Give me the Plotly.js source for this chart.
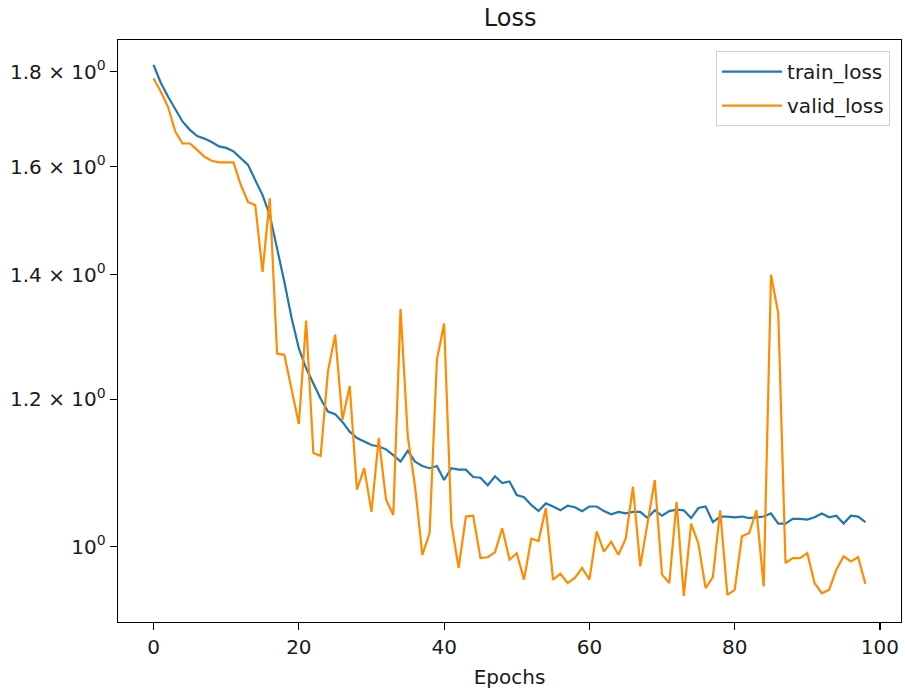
<!DOCTYPE html>
<html>
<head>
<meta charset="utf-8">
<script src="https://cdn.plot.ly/plotly-3.0.1.min.js"></script>
<style>html,body{margin:0;padding:0;background:#fff;}#chart{width:905px;height:692px;}</style>
</head>
<body>
<div id="chart"></div>
<script>
const epochs = Array.from({length: 99}, (_, i) => i);

const trainLoss = [
  1.815, 1.775, 1.745, 1.717, 1.692, 1.675, 1.662, 1.657, 1.650, 1.641,
  1.638, 1.631, 1.617, 1.604, 1.574, 1.545, 1.507, 1.447, 1.388, 1.327,
  1.278, 1.247, 1.224, 1.201, 1.182, 1.178, 1.167, 1.153, 1.144, 1.139,
  1.134, 1.132, 1.128, 1.120, 1.111, 1.126, 1.111, 1.105, 1.102, 1.105,
  1.086, 1.102, 1.100, 1.100, 1.090, 1.089, 1.079, 1.091, 1.082, 1.084,
  1.066, 1.063, 1.053, 1.045, 1.055, 1.051, 1.046, 1.052, 1.050, 1.045,
  1.051, 1.051, 1.045, 1.041, 1.044, 1.042, 1.044, 1.044, 1.036, 1.046,
  1.039, 1.045, 1.047, 1.046, 1.036, 1.049, 1.051, 1.031, 1.038, 1.038,
  1.037, 1.038, 1.036, 1.037, 1.038, 1.042, 1.029, 1.029, 1.035, 1.035,
  1.034, 1.037, 1.042, 1.037, 1.039, 1.029, 1.039, 1.038, 1.031
];

const validLoss = [
  1.785, 1.756, 1.723, 1.671, 1.647, 1.647, 1.634, 1.620, 1.612, 1.609,
  1.609, 1.609, 1.565, 1.532, 1.526, 1.405, 1.539, 1.270, 1.268, 1.215,
  1.164, 1.323, 1.123, 1.119, 1.242, 1.300, 1.170, 1.220, 1.073, 1.102,
  1.044, 1.144, 1.060, 1.040, 1.342, 1.146, 1.077, 0.990, 1.017, 1.260,
  1.318, 1.029, 0.974, 1.038, 1.039, 0.986, 0.987, 0.993, 1.023, 0.984,
  0.992, 0.960, 1.010, 1.007, 1.049, 0.960, 0.967, 0.956, 0.962, 0.974,
  0.960, 1.019, 0.994, 1.006, 0.990, 1.010, 1.077, 0.976, 1.027, 1.086,
  0.966, 0.956, 1.057, 0.941, 1.029, 1.004, 0.950, 0.963, 1.046, 0.942,
  0.948, 1.013, 1.017, 1.046, 0.952, 1.400, 1.335, 0.980, 0.986, 0.986,
  0.992, 0.956, 0.944, 0.948, 0.972, 0.988, 0.982, 0.987, 0.955
];

const yTickVals = [1.0, 1.2, 1.4, 1.6, 1.8];
const yTickText = ["10<sup>0</sup>", "1.2 × 10<sup>0</sup>", "1.4 × 10<sup>0</sup>", "1.6 × 10<sup>0</sup>", "1.8 × 10<sup>0</sup>"];
const xTickVals = [0, 20, 40, 60, 80, 100];

const font = "DejaVu Sans, sans-serif";
const txt = '#1a1a1a';

const traces = [
  {x: epochs, y: trainLoss, type: 'scatter', mode: 'lines', name: 'train_loss',
   legendgroup: 'a', line: {color: '#1f77b4', width: 2.2}},
  {x: epochs, y: validLoss, type: 'scatter', mode: 'lines', name: 'valid_loss',
   legendgroup: 'b', line: {color: '#ff8c00', width: 2.2}}
];

const layout = {
  width: 905, height: 692,
  margin: {l: 118, r: 4, t: 40, b: 70},
  paper_bgcolor: '#fff', plot_bgcolor: '#fff',
  font: {family: font, size: 20, color: txt},
  title: {text: 'Loss', font: {family: font, size: 24, color: txt},
          x: 0.5637, xref: 'container', xanchor: 'center', y: 0.975, yref: 'container', yanchor: 'middle'},
  xaxis: {
    range: [-4.9, 102.9], showgrid: false, zeroline: false,
    showline: true, mirror: true, linecolor: '#000', linewidth: 1.3,
    ticks: 'outside', ticklen: 7, tickwidth: 1.2, tickcolor: '#000',
    tickmode: 'array', tickvals: xTickVals,
    tickfont: {family: font, size: 20, color: txt},
    title: {text: 'Epochs', font: {family: font, size: 20, color: txt}, standoff: 11}
  },
  yaxis: {
    type: 'log', range: [Math.log10(0.911), Math.log10(1.872)],
    showgrid: false, zeroline: false,
    showline: true, mirror: true, linecolor: '#000', linewidth: 1.3,
    ticks: 'outside', ticklen: 7, tickwidth: 1.2, tickcolor: '#000',
    tickmode: 'array', tickvals: yTickVals, ticktext: yTickText,
    tickfont: {family: font, size: 20, color: txt}
  },
  legend: {
    x: 0.986, y: 0.981, xanchor: 'right', yanchor: 'top',
    bgcolor: 'rgba(255,255,255,0.8)', bordercolor: '#d0d0d0', borderwidth: 1,
    tracegroupgap: 5, itemwidth: 60,
    font: {family: font, size: 20, color: txt}
  },
  showlegend: true
};

Plotly.newPlot('chart', traces, layout, {displayModeBar: false, staticPlot: true});
</script>
</body>
</html>
